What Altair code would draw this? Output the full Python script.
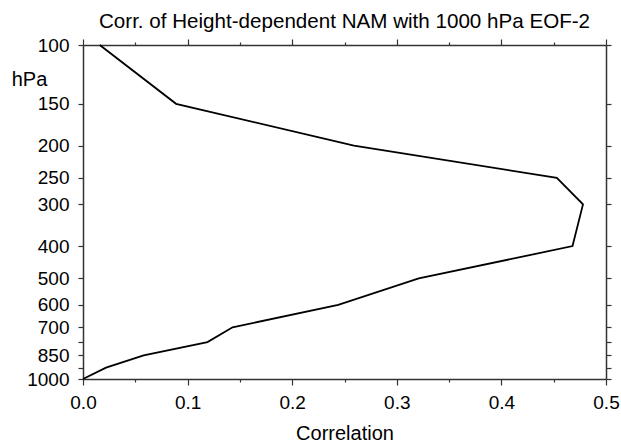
import altair as alt
import pandas as pd

pressure = [100, 150, 200, 250, 300, 400, 500, 600, 700, 775, 850, 925, 1000]
correlation = [0.016, 0.089, 0.259, 0.453, 0.478, 0.468, 0.321, 0.244, 0.143, 0.119, 0.058, 0.022, 0.0]

x_ticks = [0.0, 0.05, 0.1, 0.15, 0.2, 0.25, 0.3, 0.35, 0.4, 0.45, 0.5]
y_ticks = [100, 150, 200, 250, 300, 400, 500, 600, 700, 775, 850, 925, 1000]

df = pd.DataFrame({"p": pressure, "r": correlation})

FONT = "Liberation Sans"
AX = "#333333"
major_test = "abs(datum.value*10 - round(datum.value*10)) < 0.001"

xscale = alt.Scale(domain=[0, 0.5], nice=False, zero=False)
yscale = alt.Scale(type="log", domain=[100, 1000], reverse=True, nice=False)

common_axis = dict(domainColor=AX, domainWidth=1.5, tickColor=AX, tickWidth=1.2,
                   grid=False, labelFont=FONT, titleFont=FONT, labelColor="black",
                   titleColor="black")

base = alt.Chart(df)

main = base.mark_line(color="black", strokeWidth=1.8).encode(
    x=alt.X("r:Q", scale=xscale, axis=alt.Axis(
        orient="bottom", values=x_ticks, title="Correlation",
        tickSize=alt.condition(major_test, alt.value(6), alt.value(3)),
        labelExpr="(" + major_test + ") ? format(datum.value, '.1f') : ''",
        labelFontSize=19, labelPadding=8, titleFontSize=20, titleFontWeight="normal",
        titleBaseline="alphabetic", titleY=60, labelFlush=False, labelOverlap=False,
        **common_axis)),
    y=alt.Y("p:Q", scale=yscale, axis=alt.Axis(
        orient="left", values=y_ticks, title="hPa",
        tickSize=5,
        labelExpr="(datum.value == 775 || datum.value == 925) ? '' : format(datum.value, 'd')",
        labelFontSize=19, labelPadding=9, titleFontSize=20, titleFontWeight="normal",
        titleAngle=0, titleAlign="center", titleBaseline="alphabetic",
        titleX=-54, titleY=40, labelFlush=False, labelOverlap=False,
        **common_axis)),
    order=alt.Order("p:Q"),
)

frame = base.mark_line(opacity=0).encode(
    x=alt.X("r:Q", scale=xscale, axis=alt.Axis(
        orient="top", values=x_ticks, title=None, labels=False,
        tickSize=alt.condition(major_test, alt.value(6), alt.value(3)),
        **common_axis)),
    y=alt.Y("p:Q", scale=yscale, axis=alt.Axis(
        orient="right", values=y_ticks, title=None, labels=False, tickSize=5,
        **common_axis)),
    order=alt.Order("p:Q"),
)

chart = alt.layer(main, frame).resolve_axis(x="independent", y="independent").properties(
    width=523,
    height=334,
    autosize=alt.AutoSizeParams(type="none"),
    padding={"left": 83, "top": 45, "right": 15, "bottom": 64},
    title=alt.TitleParams(
        "Corr. of Height-dependent NAM with 1000 hPa EOF-2",
        font=FONT, fontSize=20.6, fontWeight="normal", color="black",
        anchor="middle", baseline="alphabetic", offset=-13,
    ),
).configure_view(stroke=None).configure(background="white")

chart.save("out.html", embed_options={"renderer": "svg", "actions": False})
